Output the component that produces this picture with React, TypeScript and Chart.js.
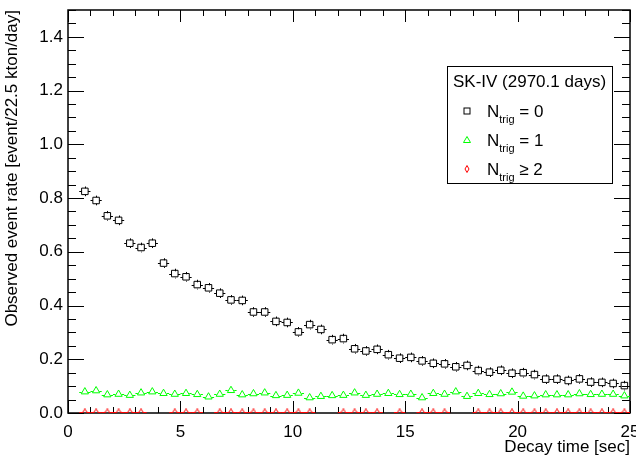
import React, { useEffect, useRef } from 'react';
import { Chart, registerables } from 'chart.js';

Chart.register(...registerables);

// Bin centres of the decay-time histogram [sec]
const DECAY_TIME = [
  0.75, 1.25, 1.75, 2.25, 2.75, 3.25, 3.75, 4.25, 4.75, 5.25,
  5.75, 6.25, 6.75, 7.25, 7.75, 8.25, 8.75, 9.25, 9.75, 10.25,
  10.75, 11.25, 11.75, 12.25, 12.75, 13.25, 13.75, 14.25, 14.75, 15.25,
  15.75, 16.25, 16.75, 17.25, 17.75, 18.25, 18.75, 19.25, 19.75, 20.25,
  20.75, 21.25, 21.75, 22.25, 22.75, 23.25, 23.75, 24.25, 24.75,
];

// N_trig = 0
const RATE_NTRIG0 = [
  0.825, 0.791, 0.734, 0.717, 0.632, 0.616, 0.632, 0.558, 0.519, 0.507,
  0.478, 0.466, 0.446, 0.421, 0.419, 0.376, 0.376, 0.341, 0.337, 0.302,
  0.329, 0.311, 0.273, 0.277, 0.239, 0.231, 0.237, 0.217, 0.204, 0.207,
  0.194, 0.185, 0.183, 0.172, 0.177, 0.158, 0.152, 0.159, 0.148, 0.150,
  0.143, 0.126, 0.126, 0.121, 0.127, 0.115, 0.114, 0.110, 0.102,
];

// N_trig = 1
const RATE_NTRIG1 = [
  0.079, 0.083, 0.068, 0.070, 0.066, 0.075, 0.079, 0.073, 0.070, 0.073,
  0.069, 0.060, 0.070, 0.084, 0.068, 0.072, 0.075, 0.065, 0.066, 0.074,
  0.057, 0.062, 0.065, 0.066, 0.075, 0.066, 0.070, 0.073, 0.069, 0.070,
  0.057, 0.073, 0.070, 0.079, 0.062, 0.073, 0.069, 0.072, 0.078, 0.063,
  0.064, 0.068, 0.068, 0.068, 0.072, 0.069, 0.070, 0.070, 0.064,
];

// N_trig >= 2 (null = empty bin)
const RATE_NTRIG2 = [
  0.002, 0.002, 0.002, 0.002, 0.002, 0.002, null, null, 0.002, 0.002,
  0.002, null, 0.002, 0.002, 0.002, 0.002, 0.002, 0.002, 0.002, 0.002,
  0.002, null, null, 0.002, 0.002, 0.002, 0.002, null, 0.002, null,
  0.002, 0.002, 0.002, null, null, 0.002, 0.002, 0.002, 0.002, 0.002,
  0.002, 0.002, 0.002, 0.002, 0.002, 0.002, 0.002, 0.002, 0.002,
];

const BIN_HALF_WIDTH = 0.25;
const ERR_NTRIG0 = 0.018;

const X_TICKS = [0, 5, 10, 15, 20, 25];
const X_MINOR_STEP = 1;
const Y_TICKS = [0, 0.2, 0.4, 0.6, 0.8, 1.0, 1.2, 1.4];
const Y_MINOR_STEP = 0.05;
const X_MIN = 0, X_MAX = 25, Y_MIN = 0, Y_MAX = 1.5;

const X_TITLE = 'Decay time [sec]';
const Y_TITLE = 'Observed event rate [event/22.5 kton/day]';
const LEGEND_TITLE = 'SK-IV (2970.1 days)';
const LEGEND_SUFFIX = ['= 0', '= 1', '\u2265 2'];

const FONT = '"Liberation Sans", Arial, Helvetica, sans-serif';
const FS = 17;
const C0 = '#000000';
const C1 = '#00ff00';
const C2 = '#ff0000';

function makeDiamond(color: string) {
  const c = document.createElement('canvas');
  c.width = 6;
  c.height = 8;
  const g = c.getContext('2d')!;
  g.strokeStyle = color;
  g.lineWidth = 1;
  g.beginPath();
  g.moveTo(3, 0.5);
  g.lineTo(5.3, 4);
  g.lineTo(3, 7.5);
  g.lineTo(0.7, 4);
  g.closePath();
  g.stroke();
  return c;
}

const rootPlugin = {
  id: 'rootStyle',
  beforeDatasetsDraw(chart: any) {
    const { ctx, chartArea: a, scales } = chart;
    const xs = scales.x, ys = scales.y;
    ctx.save();
    // frame
    ctx.strokeStyle = '#000';
    ctx.lineWidth = 1.5;
    ctx.strokeRect(a.left, a.top, a.right - a.left, a.bottom - a.top);
    ctx.lineWidth = 1;
    ctx.beginPath();
    // x ticks (bottom and top)
    for (let v = X_MIN; v <= X_MAX + 1e-9; v += X_MINOR_STEP) {
      const major = X_TICKS.some((t) => Math.abs(t - v) < 1e-6);
      const len = major ? 12 : 6;
      const px = Math.round(xs.getPixelForValue(v)) + 0.5;
      ctx.moveTo(px, a.bottom);
      ctx.lineTo(px, a.bottom - len);
      ctx.moveTo(px, a.top);
      ctx.lineTo(px, a.top + len);
    }
    // y ticks (left and right)
    for (let v = Y_MIN; v <= Y_MAX + 1e-9; v += Y_MINOR_STEP) {
      const major = Y_TICKS.some((t) => Math.abs(t - v) < 1e-6);
      const len = major ? 16 : 8;
      const py = Math.round(ys.getPixelForValue(v)) + 0.5;
      ctx.moveTo(a.left, py);
      ctx.lineTo(a.left + len, py);
      ctx.moveTo(a.right, py);
      ctx.lineTo(a.right - len, py);
    }
    ctx.stroke();

    // error bars
    const series = [
      { data: RATE_NTRIG0, color: C0, gapX: 3.2, gapY: 3.2, err: ERR_NTRIG0 },
      { data: RATE_NTRIG1, color: C1, gapX: 3.2, gapY: 0, err: 0 },
      { data: RATE_NTRIG2, color: C2, gapX: 2.0, gapY: 0, err: 0 },
    ];
    for (const s of series) {
      ctx.strokeStyle = s.color;
      ctx.lineWidth = 1;
      ctx.beginPath();
      s.data.forEach((v: number | null, i: number) => {
        if (v === null) return;
        const x = DECAY_TIME[i];
        const px = xs.getPixelForValue(x);
        const py = Math.round(ys.getPixelForValue(v)) + 0.5;
        const l = xs.getPixelForValue(x - BIN_HALF_WIDTH);
        const r = xs.getPixelForValue(x + BIN_HALF_WIDTH);
        ctx.moveTo(l, py);
        ctx.lineTo(px - s.gapX, py);
        ctx.moveTo(px + s.gapX, py);
        ctx.lineTo(r, py);
        if (s.err > 0) {
          const top = ys.getPixelForValue(v + s.err);
          const bot = ys.getPixelForValue(v - s.err);
          const cx = Math.round(px) + 0.5;
          if (py - s.gapY > top) {
            ctx.moveTo(cx, top);
            ctx.lineTo(cx, py - s.gapY);
            ctx.moveTo(cx, py + s.gapY);
            ctx.lineTo(cx, bot);
          }
        }
      });
      ctx.stroke();
    }
    ctx.restore();
  },
  afterDraw(chart: any) {
    const { ctx, chartArea: a } = chart;
    ctx.save();
    const bx = a.right - 183, by = a.top + 56, bw = 165, bh = 117;
    ctx.fillStyle = '#fff';
    ctx.fillRect(bx, by, bw, bh);
    ctx.strokeStyle = '#000';
    ctx.lineWidth = 1;
    ctx.strokeRect(bx + 0.5, by + 0.5, bw, bh);
    ctx.fillStyle = '#000';
    ctx.font = `${FS}px ${FONT}`;
    ctx.textAlign = 'center';
    ctx.textBaseline = 'alphabetic';
    ctx.fillText(LEGEND_TITLE, bx + bw / 2, by + 21);

    const rows = [by + 51, by + 80, by + 109];
    const mx = bx + 20;
    rows.forEach((base, i) => {
      const my = base - 6;
      ctx.lineWidth = 1;
      if (i === 0) {
        ctx.strokeStyle = C0;
        ctx.strokeRect(mx - 3, my - 3, 6, 6);
      } else if (i === 1) {
        ctx.strokeStyle = C1;
        ctx.beginPath();
        ctx.moveTo(mx, my - 3.5);
        ctx.lineTo(mx + 3.5, my + 2.5);
        ctx.lineTo(mx - 3.5, my + 2.5);
        ctx.closePath();
        ctx.stroke();
      } else {
        ctx.strokeStyle = C2;
        ctx.beginPath();
        ctx.moveTo(mx, my - 3.5);
        ctx.lineTo(mx + 2, my);
        ctx.lineTo(mx, my + 3.5);
        ctx.lineTo(mx - 2, my);
        ctx.closePath();
        ctx.stroke();
      }
      ctx.fillStyle = '#000';
      ctx.textAlign = 'left';
      let tx = bx + 40;
      ctx.font = `${FS}px ${FONT}`;
      ctx.fillText('N', tx, base);
      tx += ctx.measureText('N').width;
      ctx.font = `11px ${FONT}`;
      ctx.fillText('trig', tx, base + 6);
      tx += ctx.measureText('trig').width;
      ctx.font = `${FS}px ${FONT}`;
      ctx.fillText(' ' + LEGEND_SUFFIX[i], tx, base);
    });
    ctx.restore();
  },
};

export default function App() {
  const ref = useRef<HTMLCanvasElement | null>(null);

  useEffect(() => {
    document.body.style.margin = '0';
    const canvas = ref.current!;
    const diamond = makeDiamond(C2);
    const toPts = (arr: (number | null)[]) =>
      arr.map((v, i) => ({ x: DECAY_TIME[i], y: v }));

    const chart = new Chart(canvas, {
      type: 'scatter',
      data: {
        datasets: [
          {
            label: 'Ntrig = 0',
            data: toPts(RATE_NTRIG0) as any,
            pointStyle: 'rect',
            pointRadius: 4.6,
            borderColor: C0,
            backgroundColor: 'rgba(0,0,0,0)',
            borderWidth: 1,
          },
          {
            label: 'Ntrig = 1',
            data: toPts(RATE_NTRIG1) as any,
            pointStyle: 'triangle',
            pointRadius: 4.2,
            borderColor: C1,
            backgroundColor: 'rgba(0,0,0,0)',
            borderWidth: 1,
          },
          {
            label: 'Ntrig >= 2',
            data: toPts(RATE_NTRIG2) as any,
            pointStyle: diamond as any,
            pointRadius: 4,
            borderColor: C2,
            backgroundColor: 'rgba(0,0,0,0)',
            borderWidth: 1,
          },
        ],
      },
      options: {
        responsive: false,
        animation: false,
        devicePixelRatio: 1,
        layout: { padding: { top: 10, right: 6, left: 0, bottom: 0 } },
        plugins: { legend: { display: false }, tooltip: { enabled: false } },
        scales: {
          x: {
            type: 'linear',
            min: X_MIN,
            max: X_MAX,
            grid: { display: false, drawTicks: false },
            border: { display: false },
            afterBuildTicks: (s: any) => {
              s.ticks = X_TICKS.map((v) => ({ value: v }));
            },
            afterFit: (s: any) => {
              s.height = 43;
              s.paddingLeft = 0;
              s.paddingRight = 0;
            },
            ticks: {
              color: '#000',
              padding: 9,
              maxRotation: 0,
              font: { family: FONT, size: FS },
              callback: (v: any) => String(v),
            },
            title: {
              display: true,
              text: X_TITLE,
              align: 'end',
              color: '#000',
              font: { family: FONT, size: FS },
              padding: { top: 0, bottom: -2 },
            },
          },
          y: {
            type: 'linear',
            min: Y_MIN,
            max: Y_MAX,
            grid: { display: false, drawTicks: false },
            border: { display: false },
            afterBuildTicks: (s: any) => {
              s.ticks = Y_TICKS.map((v) => ({ value: v }));
            },
            afterFit: (s: any) => {
              s.width = 68;
              s.paddingTop = 0;
              s.paddingBottom = 0;
            },
            ticks: {
              color: '#000',
              padding: 5,
              font: { family: FONT, size: FS },
              callback: (v: any) => Number(v).toFixed(1),
            },
            title: {
              display: true,
              text: Y_TITLE,
              align: 'end',
              color: '#000',
              font: { family: FONT, size: FS },
              padding: { top: 2, bottom: 0 },
            },
          },
        },
      },
      plugins: [rootPlugin as any],
    });
    return () => chart.destroy();
  }, []);

  return (
    <canvas
      ref={ref}
      width={636}
      height={456}
      style={{ display: 'block', width: '636px', height: '456px' }}
    />
  );
}
